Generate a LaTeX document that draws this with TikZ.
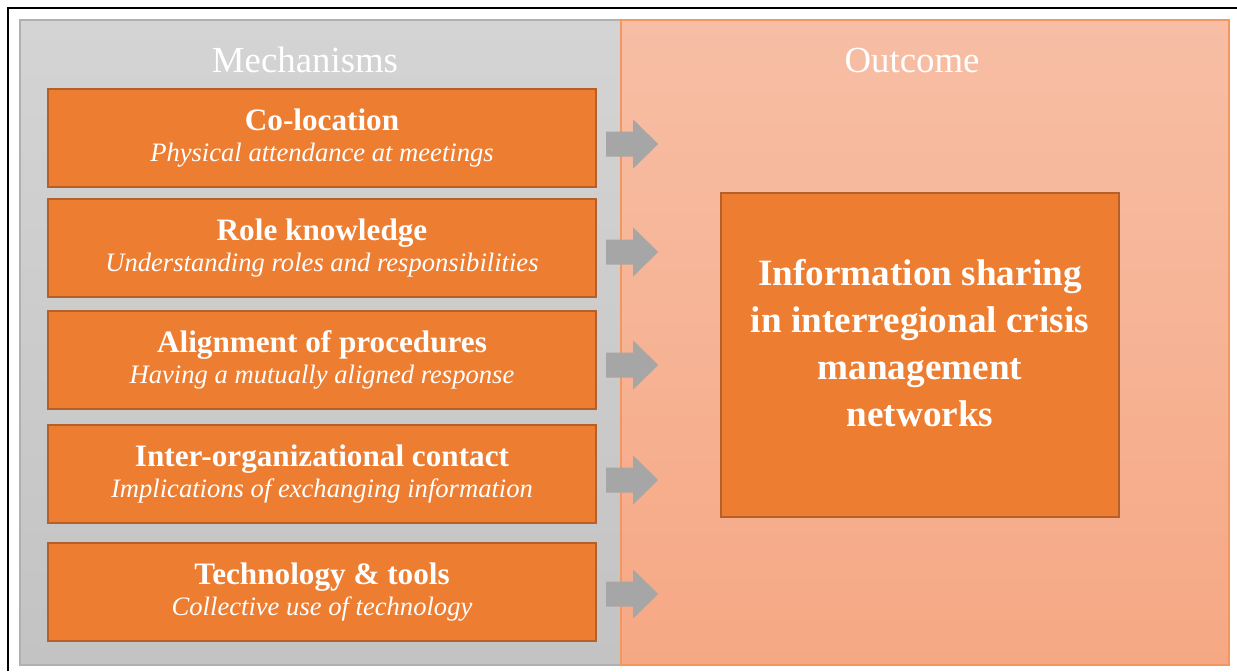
\documentclass[tikz,border=0pt]{standalone}
\usepackage{fontspec}
\setmainfont{Liberation Serif}
\usepackage{tikz}
\usetikzlibrary{positioning}

\definecolor{boxorange}{RGB}{237,125,49}
\definecolor{boxedge}{RGB}{181,96,40}
\definecolor{arrowgrey}{RGB}{166,166,166}
\definecolor{greytop}{RGB}{212,212,212}
\definecolor{greybot}{RGB}{195,195,195}
\definecolor{greyedge}{RGB}{176,176,176}
\definecolor{peachtop}{RGB}{247,190,165}
\definecolor{peachbot}{RGB}{246,168,132}
\definecolor{peachedge}{RGB}{243,150,96}

\begin{document}
\begin{tikzpicture}[x=0.5pt,y=-0.5pt,
  mechbox/.style={draw=boxedge,fill=boxorange,line width=1.2pt,minimum width=274pt,minimum height=49pt,inner sep=0pt},
  mechtitle/.style={white,anchor=base,font=\bfseries\fontsize{15.6}{18}\selectfont},
  mechsub/.style={white,anchor=base,font=\itshape\fontsize{13.3}{16}\selectfont},
  head/.style={white,font=\fontsize{18.4}{22}\selectfont}]
  \useasboundingbox (0,0) rectangle (1237,671);
  \draw[line width=1pt] (8,671) -- (8,8) -- (1237,8);
  % two panels
  \shade[top color=greytop,bottom color=greybot,draw=greyedge,line width=0.8pt] (20,20) rectangle (621,665);
  \shade[top color=peachtop,bottom color=peachbot,draw=peachedge,line width=0.8pt] (621,20) rectangle (1229,665);
  \node[head] (mech) at (305,60) {Mechanisms};
  \node[head] (outc) at (912,60) {Outcome};
  \foreach \i/\y/\d/\t/\s in {1/138/6/Co-location/Physical attendance at meetings,
                              2/248/4/Role knowledge/Understanding roles and responsibilities,
                              3/360/5/Alignment of procedures/Having a mutually aligned response,
                              4/474/6/Inter-organizational contact/Implications of exchanging information,
                              5/592/2/Technology \& tools/Collective use of technology} {
     \node[mechbox] (m\i) at (322,\y) {};
     \pgfmathsetmacro{\ta}{\y-8} \pgfmathsetmacro{\sa}{\y+23}
     \node[mechtitle] (m\i t) at (322,\ta) {\t};
     \node[mechsub] (m\i s) at (322,\sa) {\s};
     \fill[arrowgrey] (m\i.east) ++(9,\d) ++(0,-12.5) -- ++(27,0) -- ++(0,-12) -- ++(25,24.5)
        -- ++(-25,24.5) -- ++(0,-12) -- ++(-27,0) -- cycle;}
  \node[mechbox,minimum width=199pt,minimum height=162pt] (out) at (920,355) {};
  \node[white,align=center,font=\bfseries\fontsize{18.6}{23.5}\selectfont] (outt) at (920,343)
     {Information sharing\\in interregional crisis\\management\\networks};
\end{tikzpicture}
\end{document}
